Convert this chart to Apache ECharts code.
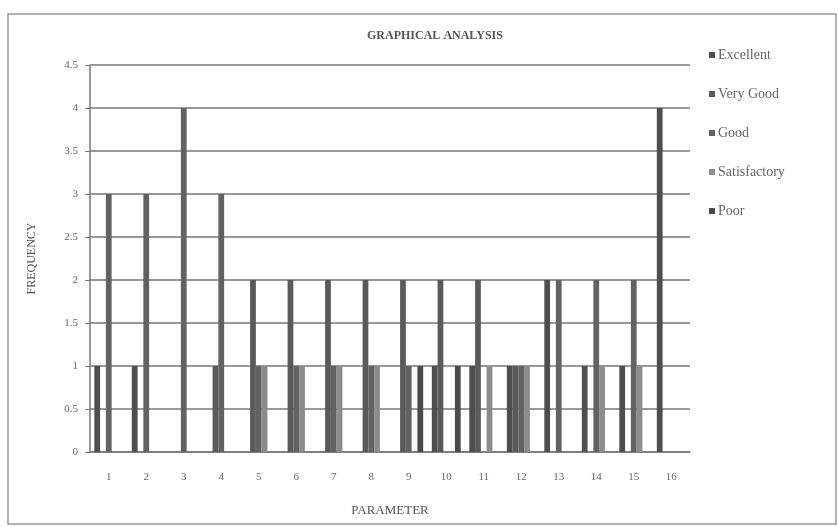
<!DOCTYPE html>
<html>
<head>
<meta charset="utf-8">
<script src="https://cdn.jsdelivr.net/npm/echarts@6/dist/echarts.min.js"></script>
<style>
  html, body { margin: 0; padding: 0; background: #fff; }
  #chart { width: 838px; height: 527px; }
</style>
</head>
<body>
<div id="chart"></div>
<script>
const categories = ["1", "2", "3", "4", "5", "6", "7", "8", "9", "10", "11", "12", "13", "14", "15", "16"];
const seriesNames = ["Excellent", "Very Good", "Good", "Satisfactory", "Poor"];
const excellent =    [1, 1, 0, 0, 0, 0, 0, 0, 0, 1, 1, 1, 2, 1, 1, 4];
const veryGood =     [0, 0, 0, 1, 2, 2, 2, 2, 2, 2, 2, 1, 0, 0, 0, 0];
const good =         [3, 3, 4, 3, 1, 1, 1, 1, 1, 0, 0, 1, 2, 2, 2, 0];
const satisfactory = [0, 0, 0, 0, 1, 1, 1, 1, 0, 0, 1, 1, 0, 1, 1, 0];
const poor =         [0, 0, 0, 0, 0, 0, 0, 0, 1, 1, 0, 0, 0, 0, 0, 0];
const seriesData = [excellent, veryGood, good, satisfactory, poor];
const colors = ["#4e4e4e", "#5a5a5a", "#626262", "#8c8c8c", "#4a4a4a"];

const chart = echarts.init(document.getElementById("chart"));
const serif = "Liberation Serif";

const option = {
  backgroundColor: "#fff",
  animation: false,
  title: {
    text: "GRAPHICAL ANALYSIS",
    left: 430,
    top: 25,
    textAlign: "center",
    textStyle: { fontFamily: serif, fontSize: 12, fontWeight: "bold", color: "#555" },
  },
  legend: {
    orient: "vertical",
    left: 704,
    top: 43,
    itemGap: 25,
    itemWidth: 6,
    itemHeight: 6,
    icon: "rect",
    textStyle: { fontFamily: serif, fontSize: 14, color: "#666", padding: [0, 0, 0, -2] },
    data: seriesNames,
  },
  grid: { left: 90, right: 148, top: 65, bottom: 75 },
  xAxis: {
    type: "category",
    data: categories,
    name: "PARAMETER",
    nameLocation: "middle",
    nameGap: 52,
    nameTextStyle: { fontFamily: serif, fontSize: 13, color: "#555" },
    axisLine: { lineStyle: { color: "#777", width: 1.5 } },
    axisTick: { show: false },
    axisLabel: { fontFamily: serif, fontSize: 11, color: "#666", margin: 20 },
  },
  yAxis: {
    type: "value",
    min: 0,
    max: 4.5,
    interval: 0.5,
    name: "FREQUENCY",
    nameLocation: "middle",
    nameGap: 52,
    nameTextStyle: { fontFamily: serif, fontSize: 12, color: "#555" },
    axisLine: { show: true, lineStyle: { color: "#777", width: 1.5 } },
    axisTick: { show: true, length: 5, lineStyle: { color: "#777" } },
    axisLabel: { fontFamily: serif, fontSize: 11, color: "#666", margin: 12 },
    splitLine: { lineStyle: { color: "#777", width: 1.5 } },
  },
  graphic: [
    {
      type: "rect",
      shape: { x: 8, y: 14, width: 828, height: 510 },
      style: { fill: "none", stroke: "#999", lineWidth: 1.5 },
      silent: true,
    },
  ],
  series: seriesNames.map((name, i) => ({
    name,
    type: "bar",
    data: seriesData[i],
    barGap: "0%",
    barCategoryGap: "23%",
    itemStyle: { color: colors[i] },
  })),
};

chart.setOption(option);
</script>
</body>
</html>
